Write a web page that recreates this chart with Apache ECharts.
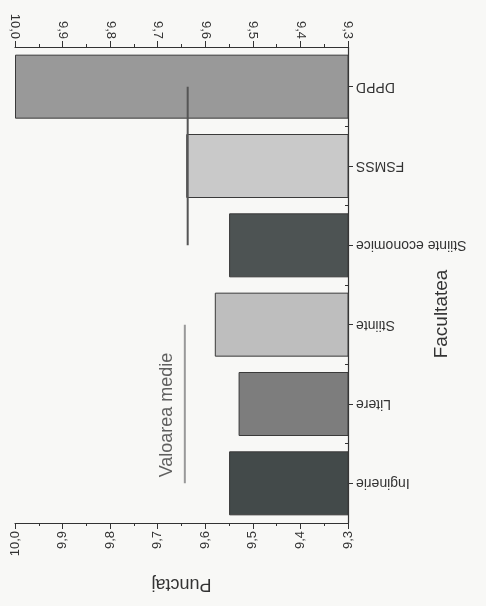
<!DOCTYPE html>
<html>
<head>
<meta charset="utf-8">
<script src="https://cdn.jsdelivr.net/npm/echarts@6/dist/echarts.min.js"></script>
<style>
html,body{margin:0;padding:0;background:#f8f8f6;}
#c{width:486px;height:606px;}
</style>
</head>
<body>
<div id="c"></div>
<script>
const categories = ['Inginerie', 'Litere', 'Stiinte', 'Stiinte economice', 'FSMSS', 'DPPD'];
const scores = [9.55, 9.53, 9.58, 9.55, 9.64, 10.0];
const barColors = ['#434a4a', '#7d7d7d', '#bebebe', '#4d5353', '#c9c9c9', '#999999'];
const meanUpper = [[9.637, 'Stiinte economice'], [9.637, 'FSMSS'], [9.637, 'DPPD']];
const meanLower = [[9.643, 'Inginerie'], [9.643, 'Litere'], [9.643, 'Stiinte']];
const meanLabelPoint = [[9.68, 'Litere']];
const valueMin = 9.3, valueMax = 10.0, valueStep = 0.1;

const chart = echarts.init(document.getElementById('c'));
const fmt = v => v.toFixed(1).replace('.', ',');
const font = 'Liberation Sans, Arial, sans-serif';
const valueAxisBase = {
  type: 'value', min: valueMin, max: valueMax, interval: valueStep, inverse: true,
  axisLine: {show: true, lineStyle: {color: '#333', width: 1.2}},
  axisTick: {show: true, inside: false, length: 6, lineStyle: {color: '#333'}},
  minorTick: {show: true, splitNumber: 2, length: 3, lineStyle: {color: '#333'}},
  splitLine: {show: false},
  axisLabel: {rotate: 90, formatter: fmt, color: '#333', fontSize: 13, fontFamily: font, margin: 8}
};
chart.setOption({
  animation: false,
  backgroundColor: '#f8f8f6',
  grid: {left: 15, right: 138, top: 47, bottom: 83, containLabel: false, outerBoundsMode: 'none'},
  xAxis: [
    Object.assign({}, valueAxisBase, {position: 'bottom', name: 'Punctaj', nameLocation: 'middle', nameGap: 52, nameRotate: 180,
      nameMoveOverlap: false, nameTextStyle: {fontSize: 18, color: '#333', fontFamily: font}}),
    Object.assign({}, valueAxisBase, {position: 'top'})
  ],
  yAxis: [
    {type: 'category', data: categories, position: 'right',
     axisLine: {show: true, lineStyle: {color: '#333', width: 1.2}},
     axisTick: {show: true, alignWithLabel: true, length: 5, lineStyle: {color: '#333'}},
     axisLabel: {rotate: 180, color: '#333', fontSize: 14, fontFamily: font, margin: 8},
     name: 'Facultatea', nameLocation: 'middle', nameGap: 84, nameRotate: 90, nameMoveOverlap: false,
     nameTextStyle: {fontSize: 19, color: '#333', fontFamily: font, padding: [0, 58, 0, 0]}},
    {type: 'category', data: categories, position: 'right',
     axisLine: {show: false},
     axisTick: {show: true, inside: true, length: 3, lineStyle: {color: '#333'}},
     axisLabel: {show: false}}
  ],
  series: [
    {type: 'bar', xAxisIndex: 0, yAxisIndex: 0, barWidth: 64,
     data: scores.map((v, i) => ({value: v, itemStyle: {color: barColors[i]}})),
     itemStyle: {borderColor: '#3a3a3a', borderWidth: 1}},
    {type: 'line', xAxisIndex: 0, yAxisIndex: 0, data: meanUpper, symbol: 'none',
     lineStyle: {color: '#555', width: 2}},
    {type: 'line', xAxisIndex: 0, yAxisIndex: 0, data: meanLower, symbol: 'none',
     lineStyle: {color: '#999', width: 2}},
    {type: 'scatter', xAxisIndex: 0, yAxisIndex: 0, data: meanLabelPoint, symbolSize: 0,
     label: {show: true, formatter: 'Valoarea medie', position: 'inside', rotate: 90, align: 'center', verticalAlign: 'middle',
       offset: [-11, 0], fontSize: 18, color: '#3a3a3a', fontFamily: font}}
  ]
});
</script>
</body>
</html>
